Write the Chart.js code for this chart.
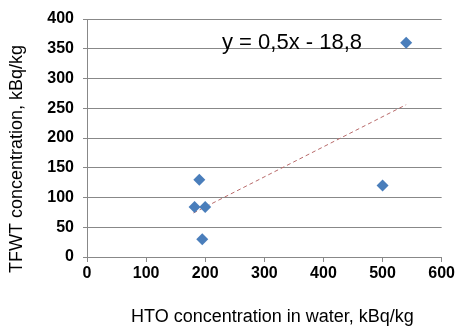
<!DOCTYPE html>
<html>
<head>
<meta charset="utf-8">
<script src="https://cdn.jsdelivr.net/npm/chart.js@4"></script>
<style>
  html, body { margin: 0; padding: 0; background: #fff; }
  #wrap { width: 457px; height: 326px; position: relative; }
</style>
</head>
<body>
<div id="wrap"><canvas id="chart"></canvas></div>
<script>
// measured points
const htoWater = [540, 500, 190, 182, 200, 195];
const tfwt = [360, 120, 130, 84, 84, 30];

// trendline ends
const trendX = [180, 540];
const trendY = [74, 256];

const xTicks = [0, 100, 200, 300, 400, 500, 600];
const yTicks = [0, 50, 100, 150, 200, 250, 300, 350, 400];

const equationText = 'y = 0,5x - 18,8';
const xTitle = 'HTO concentration in water, kBq/kg';
const yTitle = 'TFWT concentration, kBq/kg';

const fontFamily = '"Liberation Sans", Arial, sans-serif';
const gridColor = '#888888';

// titles and the equation are drawn by hand (Excel puts them off-centre)
const textPlugin = {
    id: 'textPlugin',
    afterDraw(chart) {
        const ctx = chart.ctx;
        ctx.save();
        ctx.fillStyle = '#000';
        ctx.textBaseline = 'alphabetic';
        ctx.textAlign = 'left';

        ctx.font = '22px ' + fontFamily;
        ctx.fillText(equationText, 222, 48.5);

        ctx.font = '18px ' + fontFamily;
        ctx.fillText(xTitle, 131, 322);

        ctx.translate(22, 273);
        ctx.rotate(-Math.PI / 2);
        ctx.fillText(yTitle, 0, 0);
        ctx.restore();
    }
};

const points = htoWater.map(function (x, i) {
    return { x: x, y: tfwt[i] };
});
const trend = trendX.map(function (x, i) {
    return { x: x, y: trendY[i] };
});

const data = {
    datasets: [
        {
            data: points,
            pointStyle: 'rectRot',
            pointRadius: 6,
            pointHoverRadius: 6,
            backgroundColor: '#4a7ebb',
            borderColor: '#4a7ebb',
            borderWidth: 0,
            showLine: false
        },
        {
            data: trend,
            showLine: true,
            pointRadius: 0,
            borderColor: '#b86a6a',
            borderWidth: 1,
            borderDash: [4, 3],
            fill: false
        }
    ]
};

const options = {
    responsive: true,
    maintainAspectRatio: false,
    animation: false,
    layout: {
        padding: { top: 19, right: 14, left: 0, bottom: 0 }
    },
    plugins: {
        legend: { display: false },
        tooltip: { enabled: false },
        title: { display: false }
    },
    scales: {
        x: {
            type: 'linear',
            min: 0,
            max: 600,
            afterBuildTicks: function (scale) {
                scale.ticks = xTicks.map(function (v) { return { value: v }; });
            },
            afterFit: function (scale) { scale.height = 69; },
            grid: {
                drawOnChartArea: false,
                drawTicks: true,
                tickLength: 5,
                color: gridColor
            },
            border: { display: true, color: gridColor },
            ticks: {
                color: '#000',
                padding: 2,
                maxRotation: 0,
                font: { family: fontFamily, size: 16, weight: 'bold' }
            }
        },
        y: {
            type: 'linear',
            min: 0,
            max: 400,
            afterBuildTicks: function (scale) {
                scale.ticks = yTicks.map(function (v) { return { value: v }; });
            },
            afterFit: function (scale) { scale.width = 87; },
            grid: {
                drawTicks: true,
                tickLength: 4,
                color: gridColor
            },
            border: { display: true, color: gridColor },
            ticks: {
                color: '#000',
                padding: 9,
                font: { family: fontFamily, size: 16, weight: 'bold' }
            }
        }
    }
};

const ctx = document.getElementById('chart').getContext('2d');
const chart = new Chart(ctx, {
    type: 'scatter',
    data: data,
    options: options,
    plugins: [textPlugin]
});
</script>
</body>
</html>
